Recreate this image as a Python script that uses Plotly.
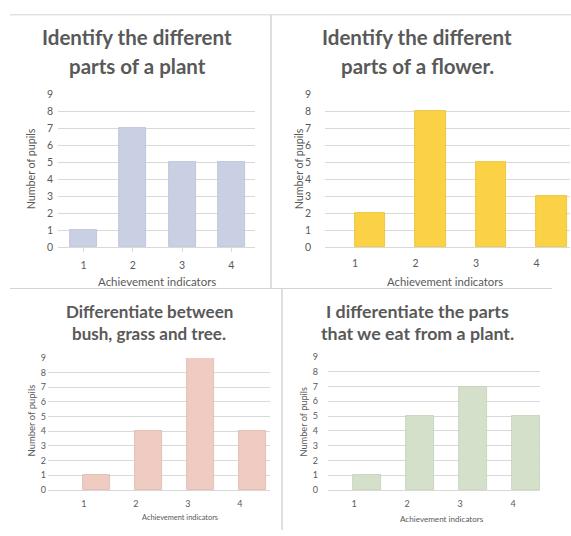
import plotly.graph_objects as go

W, H = 571, 536

categories = ["1", "2", "3", "4"]
titles = [
    ["Identify the different", "parts of a plant"],
    ["Identify the different", "parts of a flower."],
    ["Differentiate between", "bush, grass and tree."],
    ["I differentiate the parts", "that we eat from a plant."],
]
values_plant = [1, 7, 5, 5]
values_flower = [2, 8, 5, 3]
values_bush = [1, 4, 9, 4]
values_eat = [1, 5, 7, 5]
y_ticks = [0, 1, 2, 3, 4, 5, 6, 7, 8, 9]
x_title = "Achievement indicators"
y_title = "Number of pupils"

series = [values_plant, values_flower, values_bush, values_eat]
bar_colors = ["#c9d0e3", "#fbd246", "#efcbc1", "#d4e0ca"]
bar_edges = ["#b9c0d6", "#e8bf2e", "#dcb7ac", "#c2d1b6"]

# panel layout in pixels
panels = [
    dict(xd=(58, 255), yd=(90, 247), xr=(0.48, 4.48), shift=0, ystand=4, xstand=4,
         tx=137, ty=(32, 61), tsize=20.5, ytx=30, yty=167, xtx=157, xty=282, bw=0.55,
         xts=11.5, yts=10.7, tick=10.5),
    dict(xd=(325, 570), yd=(90, 247), xr=(0.256, 4.306), shift=-15, ystand=13, xstand=6,
         tx=417, ty=(32, 61), tsize=20.5, ytx=298, yty=167, xtx=445, xty=282, bw=0.51,
         xts=11.3, yts=10.7, tick=10.5),
    dict(xd=(48, 270), yd=(360, 495), xr=(0.06, 4.33), shift=-13, ystand=1, xstand=5,
         tx=149, ty=(312, 335), tsize=17, ytx=32, yty=424, xtx=180, xty=523, bw=0.52,
         xts=7.4, yts=9.5, tick=9),
    dict(xd=(328, 540), yd=(359, 495), xr=(0.264, 4.264), shift=-13, ystand=9, xstand=5,
         tx=417, ty=(312, 334), tsize=17.8, ytx=303, yty=426, xtx=442, xty=525, bw=0.53,
         xts=8.1, yts=9.2, tick=9),
]

def px(x):
    return x / W

def py(y):
    return 1 - y / H

fig = go.Figure()
annotations = []
TXT = "#595959"
GRID = "#d9d9d9"
FONT = "Lato, Open Sans, sans-serif"

for i, (p, vals) in enumerate(zip(panels, series)):
    n = i + 1
    xa = "x" if n == 1 else f"x{n}"
    ya = "y" if n == 1 else f"y{n}"
    fig.add_trace(go.Bar(
        x=[int(c) for c in categories], y=vals, xaxis=xa, yaxis=ya,
        width=p["bw"], marker=dict(color=bar_colors[i], line=dict(color=bar_edges[i], width=0.8)),
        showlegend=False, hoverinfo="x+y",
    ))
    xkey = "xaxis" if n == 1 else f"xaxis{n}"
    ykey = "yaxis" if n == 1 else f"yaxis{n}"
    fig.update_layout({
        xkey: dict(
            domain=[px(p["xd"][0]), px(p["xd"][1])], range=list(p["xr"]), anchor=ya,
            tickmode="array", tickvals=[int(c) for c in categories], ticktext=categories,
            showgrid=False, zeroline=False, showline=True, linecolor=GRID, linewidth=1,
            ticks="outside" if n == 1 else "", ticklen=4, tickcolor=GRID,
            tickfont=dict(family=FONT, size=p["tick"], color=TXT),
            ticklabelshift=p["shift"], ticklabelstandoff=p["xstand"], fixedrange=True,
        ),
        ykey: dict(
            domain=[py(p["yd"][1]), py(p["yd"][0])], range=[0, 9], anchor=xa,
            tickmode="array", tickvals=y_ticks, ticktext=[str(t) for t in y_ticks],
            showgrid=True, gridcolor=GRID, gridwidth=1, zeroline=False, showline=False,
            tickfont=dict(family=FONT, size=p["tick"], color=TXT),
            ticklabelstandoff=p["ystand"], fixedrange=True,
        ),
    })
    for line, yy in zip(titles[i], p["ty"]):
        annotations.append(dict(
            text=f"<b>{line}</b>", x=px(p["tx"]), y=py(yy), xref="paper", yref="paper",
            xanchor="center", yanchor="middle", showarrow=False,
            font=dict(family=FONT, size=p["tsize"], color=TXT),
        ))
    annotations.append(dict(
        text=y_title, x=px(p["ytx"]), y=py(p["yty"]), xref="paper", yref="paper",
        xanchor="center", yanchor="middle", showarrow=False, textangle=-90,
        font=dict(family=FONT, size=p["yts"], color=TXT),
    ))
    annotations.append(dict(
        text=x_title, x=px(p["xtx"]), y=py(p["xty"]), xref="paper", yref="paper",
        xanchor="center", yanchor="middle", showarrow=False,
        font=dict(family=FONT, size=p["xts"], color=TXT),
    ))

BORDER = "#d4d4d4"
shapes = [
    dict(type="line", xref="paper", yref="paper", x0=px(10), x1=px(571), y0=py(9), y1=py(9),
         line=dict(color=BORDER, width=1)),
    dict(type="line", xref="paper", yref="paper", x0=px(271), x1=px(271), y0=py(9), y1=py(289),
         line=dict(color=BORDER, width=1.5)),
    dict(type="line", xref="paper", yref="paper", x0=px(10), x1=px(552), y0=py(289), y1=py(289),
         line=dict(color=BORDER, width=1)),
    dict(type="line", xref="paper", yref="paper", x0=px(282), x1=px(282), y0=py(289), y1=py(536),
         line=dict(color=BORDER, width=1.5)),
]

fig.update_layout(
    width=W, height=H, margin=dict(l=0, r=0, t=0, b=0),
    paper_bgcolor="white", plot_bgcolor="white",
    annotations=annotations, shapes=shapes, bargap=0,
)

fig.write_html(
    "out.html",
    config={"displayModeBar": False},
    post_script="document.body.style.margin='0px';document.body.style.overflow='hidden';",
)
